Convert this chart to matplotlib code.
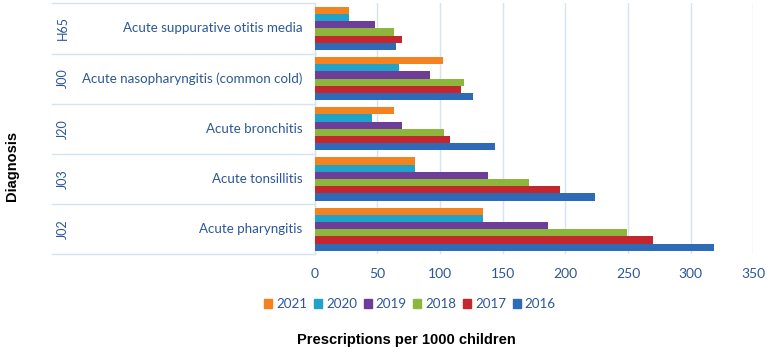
import matplotlib
matplotlib.use("Agg")
import matplotlib.pyplot as plt
import numpy as np
from matplotlib.patches import Rectangle
from matplotlib.lines import Line2D

codes = ["J02", "J03", "J20", "J00", "H65"]
diagnoses = ["Acute pharyngitis", "Acute tonsillitis", "Acute bronchitis",
             "Acute nasopharyngitis (common cold)", "Acute suppurative otitis media"]
years = ["2021", "2020", "2019", "2018", "2017", "2016"]
v2021 = [134, 80, 63, 102, 27]
v2020 = [134, 80, 46, 67, 27]
v2019 = [186, 138, 70, 92, 48]
v2018 = [249, 171, 103, 119, 63]
v2017 = [270, 196, 108, 117, 70]
v2016 = [319, 224, 144, 126, 65]
series = [v2021, v2020, v2019, v2018, v2017, v2016]
colors = ["#F5821F", "#1FA3C9", "#6E3D9A", "#8DB63C", "#C3272D", "#2D6AB8"]
xticks = [0, 50, 100, 150, 200, 250, 300, 350]

label_blue = "#2B5797"
grid_blue = "#D5E3F3"

fig = plt.figure(figsize=(7.67, 3.52), dpi=100)
ax = fig.add_axes([0.4103, 0.2776, 0.5718, 0.7130])

n = len(series)
bh = 0.143
y = np.arange(len(codes))
for k, (vals, c) in enumerate(zip(series, colors)):
    offs = (n - 1) / 2 * bh - k * bh
    ax.barh(y + offs, vals, height=bh, color=c, edgecolor="none", zorder=3)

ax.set_xlim(0, 350)
ax.set_ylim(-0.5, len(codes) - 0.5)
ax.set_xticks(xticks)
ax.set_xticklabels([str(t) for t in xticks], color=label_blue, fontsize=10, family="Lato")
ax.set_yticks([])
ax.tick_params(axis="x", length=0, pad=10)
ax.grid(axis="x", color=grid_blue, linewidth=1, zorder=0)
for s in ["top", "right", "bottom"]:
    ax.spines[s].set_visible(False)
ax.spines["left"].set_color(grid_blue)
ax.spines["left"].set_linewidth(1)

tr = ax.get_yaxis_transform()
x_left = -0.599
for b in np.arange(-0.5, len(codes), 1.0):
    ax.add_line(Line2D([x_left, 0], [b, b], transform=tr, color=grid_blue,
                       linewidth=1, clip_on=False))
for i, (cd, dg) in enumerate(zip(codes, diagnoses)):
    ax.text(-0.574, i, cd, transform=tr, rotation=90, ha="center", va="center",
            color=label_blue, fontsize=9, family="Lato")
    ax.text(-0.028, i, dg, transform=tr, ha="right", va="center",
            color=label_blue, fontsize=9.6, family="Lato")

handles = [Rectangle((0, 0), 1, 1, color=c) for c in colors]
fig.legend(handles, years, loc="center", bbox_to_anchor=(410 / 767, 1 - 304 / 352),
           ncol=6, frameon=False, handlelength=0.6, handleheight=0.6,
           handletextpad=0.3, columnspacing=0.5,
           prop={"family": "Lato", "size": 9.6}, labelcolor=label_blue)

fig.text(406 / 767, 1 - 340 / 352, "Prescriptions per 1000 children", ha="center",
         va="center", fontsize=10.5, fontweight="bold", family="Liberation Sans")
fig.text(12 / 767, 1 - 166 / 352, "Diagnosis", ha="center", va="center", rotation=90,
         fontsize=10.5, fontweight="bold", family="Liberation Sans")

fig.savefig("out.png", dpi=100)
